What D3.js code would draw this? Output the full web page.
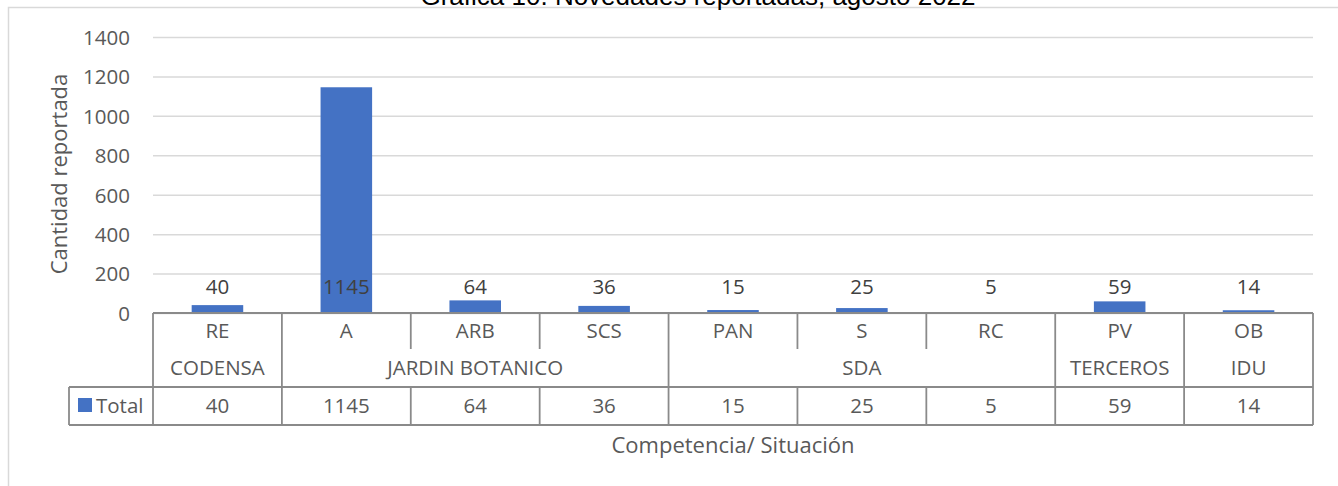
<!DOCTYPE html>
<html>
<head>
<meta charset="utf-8">
<script src="https://cdn.jsdelivr.net/npm/d3@7"></script>
<style>
  html, body { margin: 0; padding: 0; background: #fff; overflow: hidden; }
  svg { display: block; }
</style>
</head>
<body>
<svg id="chart" width="1338" height="486"></svg>
<script>
const categories = ["RE", "A", "ARB", "SCS", "PAN", "S", "RC", "PV", "OB"];
const groups = ["CODENSA", "JARDIN BOTANICO", "SDA", "TERCEROS", "IDU"];
const groupOf = ["CODENSA", "JARDIN BOTANICO", "JARDIN BOTANICO", "JARDIN BOTANICO", "SDA", "SDA", "SDA", "TERCEROS", "IDU"];
const values = [40, 1145, 64, 36, 15, 25, 5, 59, 14];
const yTicks = [0, 200, 400, 600, 800, 1000, 1200, 1400];
const seriesName = "Total";
const chartTitle = "Gráfica 10. Novedades reportadas, agosto 2022";
const yTitle = "Cantidad reportada";
const xTitle = "Competencia/ Situación";

(function () {
const FONT = "'Open Sans', sans-serif";
const TXT = "#595959";
const BAR = "#4472C4";
const GRID = "#d9d9d9";
const TABLE = "#8a8a8a";

const svg = d3.select("#chart");
const pLeft = 153, pRight = 1313, pTop = 37, pBottom = 313;
const rowH = 37;
const r1 = pBottom, r2 = pBottom + rowH, r3 = pBottom + 2 * rowH, r4 = pBottom + 3 * rowH + 1;
const legendLeft = 69;

// chart border
svg.append("rect").attr("x", 8.5).attr("y", 7.5).attr("width", 1400).attr("height", 600)
  .attr("fill", "none").attr("stroke", GRID).attr("stroke-width", 1.5);

const y = d3.scaleLinear().domain([0, 1400]).range([pBottom, pTop]);
const xCell = d3.scaleBand().domain(categories).range([pLeft, pRight]).padding(0);
const xBar = d3.scaleBand().domain(categories).range([pLeft, pRight]).paddingInner(0.6).paddingOuter(0.3);

// gridlines
svg.append("g").attr("transform", `translate(${pLeft},0)`)
  .call(d3.axisLeft(y).tickValues(yTicks).tickSize(-(pRight - pLeft)).tickFormat(""))
  .call(g => g.select(".domain").remove())
  .call(g => g.selectAll("line").attr("stroke", GRID).attr("stroke-width", 1.5));

// y tick labels
svg.append("g").attr("transform", `translate(130,0)`)
  .call(d3.axisLeft(y).tickValues(yTicks).tickSize(0).tickPadding(0).tickFormat(d3.format("d")))
  .call(g => g.select(".domain").remove())
  .call(g => g.selectAll("text").attr("fill", TXT).style("font-family", FONT).style("font-size", "20.5px").attr("dy", "0.36em"));

// bars
svg.append("g").selectAll("rect").data(values).join("rect")
  .attr("x", (d, i) => xBar(categories[i]))
  .attr("width", xBar.bandwidth())
  .attr("y", d => y(d))
  .attr("height", d => y(0) - y(d))
  .attr("fill", BAR);

// data labels (fixed height above base)
svg.append("g").selectAll("text").data(values).join("text")
  .attr("x", (d, i) => xCell(categories[i]) + xCell.bandwidth() / 2)
  .attr("y", y(0) - 19)
  .attr("text-anchor", "middle")
  .attr("fill", "#404040")
  .style("font-family", FONT).style("font-size", "20.5px")
  .text(d => d);

// ---- data table ----
const tbl = svg.append("g").attr("stroke", TABLE).attr("stroke-width", 1.8).attr("fill", "none");
tbl.append("line").attr("x1", pLeft).attr("x2", pRight).attr("y1", r1).attr("y2", r1);
tbl.append("line").attr("x1", legendLeft).attr("x2", pRight).attr("y1", r3).attr("y2", r3);
tbl.append("line").attr("x1", legendLeft).attr("x2", pRight).attr("y1", r4).attr("y2", r4);
tbl.append("line").attr("x1", pLeft).attr("x2", pLeft).attr("y1", r1).attr("y2", r4);
tbl.append("line").attr("x1", pRight).attr("x2", pRight).attr("y1", r1).attr("y2", r4);
tbl.append("line").attr("x1", legendLeft).attr("x2", legendLeft).attr("y1", r3).attr("y2", r4);
categories.slice(1).forEach((c, k) => {
  const i = k + 1;
  const xx = xCell(c);
  const groupBoundary = groupOf[i] !== groupOf[i - 1];
  if (groupBoundary) {
    tbl.append("line").attr("x1", xx).attr("x2", xx).attr("y1", r1).attr("y2", r4);
  } else {
    tbl.append("line").attr("x1", xx).attr("x2", xx).attr("y1", r1).attr("y2", r2 - 1);
    tbl.append("line").attr("x1", xx).attr("x2", xx).attr("y1", r3).attr("y2", r4);
  }
});

const tFont = sel => sel.attr("fill", TXT).style("font-family", FONT).style("font-size", "20.5px").attr("text-anchor", "middle");

svg.append("g").selectAll("text").data(categories).join("text")
  .attr("x", c => xCell(c) + xCell.bandwidth() / 2)
  .attr("y", r1 + 25)
  .call(tFont).text(c => c);

const spans = groups.map(gname => {
  const idx = groupOf.map((g, i) => g === gname ? i : -1).filter(i => i >= 0);
  const x0 = xCell(categories[idx[0]]);
  const x1 = xCell(categories[idx[idx.length - 1]]) + xCell.bandwidth();
  return { name: gname, cx: (x0 + x1) / 2 };
});
svg.append("g").selectAll("text").data(spans).join("text")
  .attr("x", d => d.cx).attr("y", r2 + 25)
  .call(tFont).text(d => d.name);

svg.append("g").selectAll("text").data(values).join("text")
  .attr("x", (d, i) => xCell(categories[i]) + xCell.bandwidth() / 2)
  .attr("y", r3 + 26)
  .call(tFont).text(d => d);

svg.append("rect").attr("x", 78).attr("y", 398).attr("width", 14).attr("height", 14).attr("fill", BAR);
svg.append("text").attr("x", 96).attr("y", r3 + 26)
  .attr("fill", TXT).style("font-family", FONT).style("font-size", "20.5px").text(seriesName);

svg.append("text")
  .attr("transform", `translate(67,174) rotate(-90)`)
  .attr("text-anchor", "middle")
  .attr("fill", TXT).style("font-family", FONT).style("font-size", "22px")
  .text(yTitle);

svg.append("text")
  .attr("x", (pLeft + pRight) / 2).attr("y", 453)
  .attr("text-anchor", "middle")
  .attr("fill", TXT).style("font-family", FONT).style("font-size", "22px")
  .text(xTitle);

// title: sits at the very top edge, partly cut off as in the reference
svg.append("text")
  .attr("x", 698).attr("y", 5)
  .attr("text-anchor", "middle")
  .attr("fill", "#000")
  .style("font-family", "'Liberation Sans', Arial, sans-serif").style("font-size", "26px")
  .text(chartTitle);
})();
</script>
</body>
</html>
